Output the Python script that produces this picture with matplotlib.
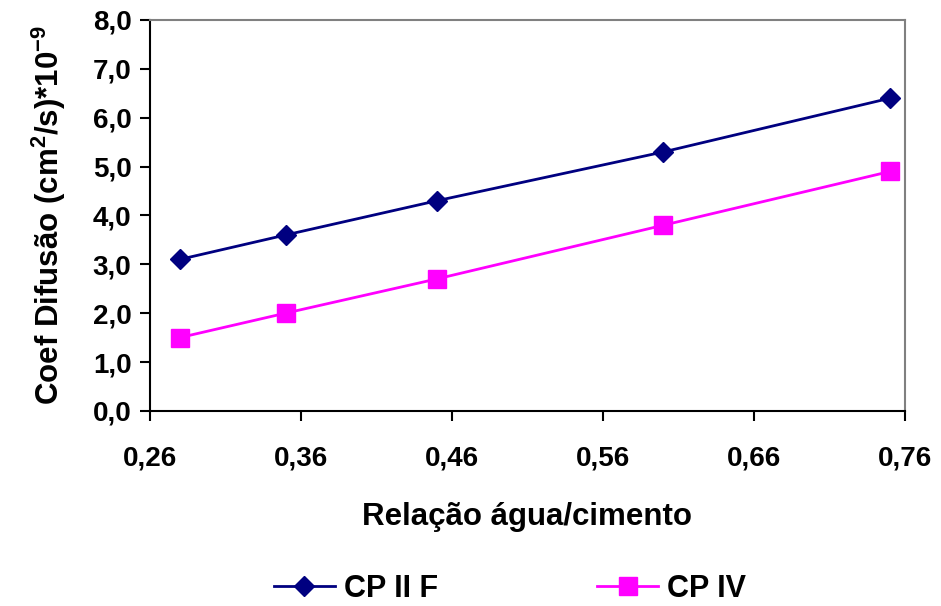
import matplotlib
matplotlib.use('Agg')
import matplotlib.pyplot as plt
from matplotlib.ticker import FuncFormatter

# dados
relacao = [0.28, 0.35, 0.45, 0.60, 0.75]
cp2f = [3.1, 3.6, 4.3, 5.3, 6.4]
cp4 = [1.5, 2.0, 2.7, 3.8, 4.9]
xticks = [0.26, 0.36, 0.46, 0.56, 0.66, 0.76]
yticks = [0, 1, 2, 3, 4, 5, 6, 7, 8]

plt.rcParams['font.family'] = 'Liberation Sans'
plt.rcParams['font.weight'] = 'bold'
plt.rcParams['mathtext.fontset'] = 'custom'
plt.rcParams['mathtext.bf'] = 'Liberation Sans:bold'
plt.rcParams['mathtext.rm'] = 'Liberation Sans:bold'
plt.rcParams['mathtext.default'] = 'bf'

fig = plt.figure(figsize=(9.41, 6.06), dpi=100)
ax = fig.add_axes([0.159, 0.322, 0.803, 0.645])

ax.plot(relacao, cp2f, color='#000080', marker='D', markersize=10, linewidth=2, label='CP II F')
ax.plot(relacao, cp4, color='#FF00FF', marker='s', markersize=13, linewidth=2, label='CP IV')

ax.set_xlim(0.26, 0.76)
ax.set_ylim(0, 8)
ax.set_xticks(xticks)
ax.set_yticks(yticks)
comma = FuncFormatter(lambda v, p: ('%.2f' % v).replace('.', ','))
comma_y = FuncFormatter(lambda v, p: ('%.1f' % v).replace('.', ','))
ax.xaxis.set_major_formatter(comma)
ax.yaxis.set_major_formatter(comma_y)
ax.tick_params(axis='both', direction='out', length=7, width=1.5, labelsize=20, pad=6)
ax.tick_params(axis='x', pad=18)

for s in ['left', 'bottom']:
    ax.spines[s].set_color('black')
    ax.spines[s].set_linewidth(1.5)
for s in ['top', 'right']:
    ax.spines[s].set_color('#808080')
    ax.spines[s].set_linewidth(1.5)

ax.set_xlabel('Relação água/cimento', fontsize=22.5, fontweight='bold', labelpad=22)
ax.set_ylabel(r'Coef Difusão (cm$^2$/s)*10$^{-9}$', fontsize=22.5, fontweight='bold', labelpad=18)

fig.legend(loc='center', bbox_to_anchor=(0.542, 0.028), ncol=2, frameon=False,
           fontsize=22, columnspacing=5.2, handlelength=2.0, handletextpad=0.3)

fig.savefig('out.png', dpi=100)
